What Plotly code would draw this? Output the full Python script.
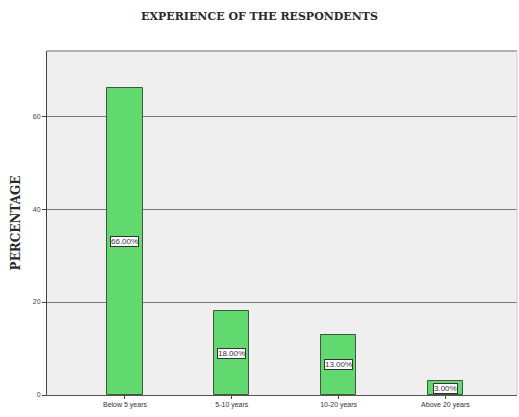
import plotly.graph_objects as go

categories = ["Below 5 years", "5-10 years", "10-20 years", "Above 20 years"]
percentages = [66.0, 18.0, 13.0, 3.0]
y_ticks = [0, 20, 40, 60]

fig = go.Figure()
fig.add_trace(go.Bar(
    x=list(range(len(categories))),
    y=percentages,
    width=0.33,
    marker=dict(color="#62d96e", line=dict(color="#3f573f", width=1)),
    hoverinfo="skip",
))

# value labels in boxes at the middle of each bar
for i, v in enumerate(percentages):
    fig.add_annotation(
        x=i, y=v / 2, text=f"{v:.2f}%", showarrow=False,
        font=dict(family="Arial, Liberation Sans", size=8, color="#333333"),
        bgcolor="white", bordercolor="#333333", borderwidth=1, borderpad=0,
    )

fig.update_layout(
    width=519, height=417,
    margin=dict(l=47, r=2, t=51, b=22),
    paper_bgcolor="white",
    plot_bgcolor="#efefef",
    showlegend=False,
    title=dict(
        text="<b>EXPERIENCE OF THE RESPONDENTS</b>",
        x=0.5, xanchor="center", y=0.962, yanchor="middle",
        font=dict(family="DejaVu Serif, serif", size=11, color="#2a2a2a"),
    ),
    bargap=0,
)
fig.update_xaxes(
    range=[-0.73, 3.67],
    tickmode="array", tickvals=list(range(len(categories))), ticktext=categories,
    ticks="outside", ticklen=3, tickcolor="#444444",
    tickfont=dict(family="Arial, Liberation Sans", size=7, color="#333333"),
    showgrid=False, zeroline=False,
    showline=True, linecolor="#555555", linewidth=1, mirror=False,
)
fig.update_yaxes(
    range=[0, 74],
    tickmode="array", tickvals=y_ticks, ticktext=[str(t) for t in y_ticks],
    ticks="outside", ticklen=4, tickcolor="#444444",
    tickfont=dict(family="Arial, Liberation Sans", size=7, color="#444444"),
    showgrid=True, gridcolor="#777777", gridwidth=1,
    zeroline=False,
    showline=True, linecolor="#444444", linewidth=1,
    title=dict(
        text="<b>PERCENTAGE</b>", standoff=9,
        font=dict(family="DejaVu Serif, serif", size=12, color="#2a2a2a"),
    ),
)
# top and right borders of the plot area
fig.add_shape(type="line", xref="paper", yref="paper", x0=0, x1=1, y0=1, y1=1,
              line=dict(color="#999999", width=1.5))
fig.add_shape(type="line", xref="paper", yref="paper", x0=1, x1=1, y0=0, y1=1,
              line=dict(color="#cccccc", width=1))

fig.write_html("out.html")
